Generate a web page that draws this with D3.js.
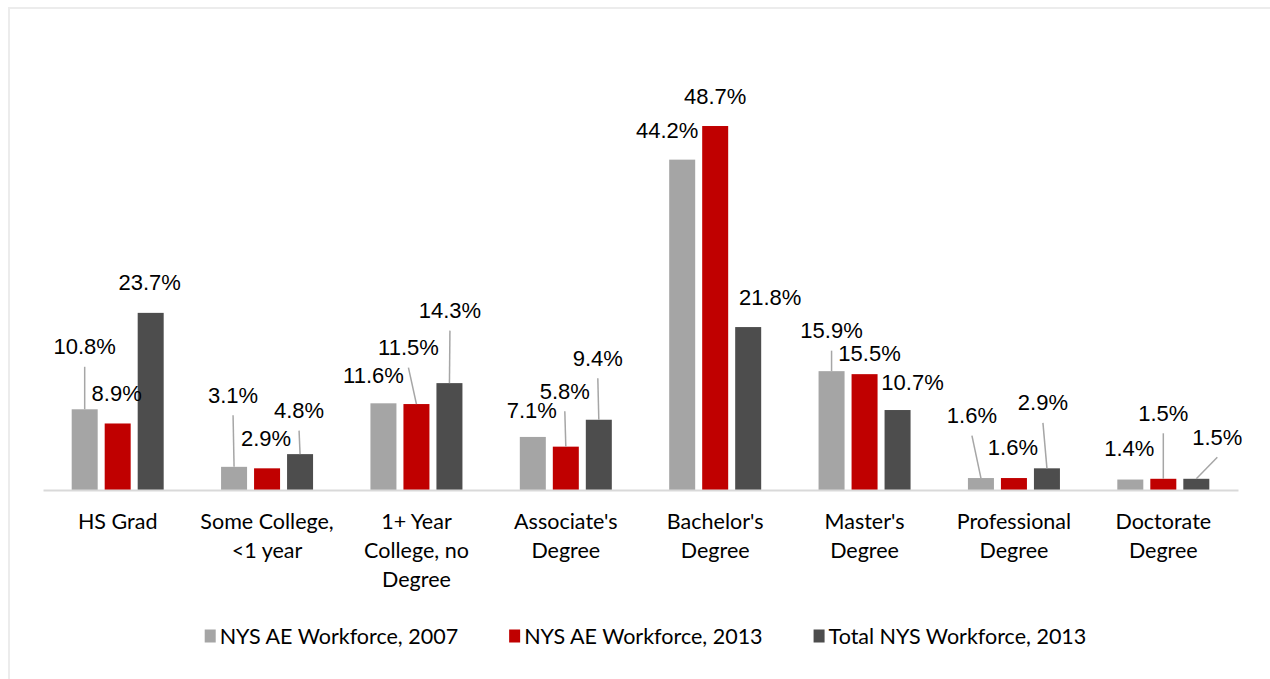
<!DOCTYPE html>
<html>
<head>
<meta charset="utf-8">
<script src="https://cdnjs.cloudflare.com/ajax/libs/d3/7.8.5/d3.min.js"></script>
<style>
  html, body { margin: 0; padding: 0; background: #fff; }
  svg { display: block; }
</style>
</head>
<body>
<svg id="chart" width="1270" height="679"></svg>
<script>
// ---- data ----
const categories = ["HS Grad", "Some College, <1 year", "1+ Year College, no Degree", "Associate's Degree",
  "Bachelor's Degree", "Master's Degree", "Professional Degree", "Doctorate Degree"];
const categoryLines = [["HS Grad"], ["Some College,", "<1 year"], ["1+ Year", "College, no", "Degree"],
  ["Associate's", "Degree"], ["Bachelor's", "Degree"], ["Master's", "Degree"], ["Professional", "Degree"], ["Doctorate", "Degree"]];
const seriesNames = ["NYS AE Workforce, 2007", "NYS AE Workforce, 2013", "Total NYS Workforce, 2013"];
const ae2007 = [10.8, 3.1, 11.6, 7.1, 44.2, 15.9, 1.6, 1.4];
const ae2013 = [8.9, 2.9, 11.5, 5.8, 48.7, 15.5, 1.6, 1.5];
const total2013 = [23.7, 4.8, 14.3, 9.4, 21.8, 10.7, 2.9, 1.5];
const seriesValues = [ae2007, ae2013, total2013];

// ---- layout of data labels (offsets from bar top centre) ----
const labelDx = [
  [0, -1, -10, -1, -15, 0, -9, -1],
  [-1, -1, -8, -1, 0, 5, -1, 0],
  [-1, -1, 0.5, -1, 22, 15, -4, 21]
];
const labelDy = [
  [-63, -72, -28, -27, -30, -41, -63, -31],
  [-30, -30, -57, -56, -30, -21, -31, -66],
  [-31, -44, -73, -62, -30, -28, -66, -42]
];
const leaders = [
  [1, 1, 0, 0, 0, 1, 1, 0],
  [0, 0, 1, 1, 0, 0, 0, 1],
  [0, 1, 1, 1, 0, 0, 1, 1]
];
const colors = ["#a5a5a5", "#c00000", "#4d4d4d"];

const svg = d3.select("#chart");

// frame
svg.append("rect").attr("x", 9).attr("y", 8).attr("width", 1280).attr("height", 700)
  .attr("fill", "#fff").attr("stroke", "#ececec").attr("stroke-width", 2);

const x0 = d3.scaleBand().domain(categories).range([43, 1238]).paddingInner(0).paddingOuter(0);
const x1 = d3.scaleBand().domain(d3.range(3)).range([-46, 46]).paddingInner(7 / 33).paddingOuter(0);
const y = d3.scaleLinear().domain([0, 50]).range([490, 116.3]);

const rows = [];
categories.forEach((c, i) => {
  seriesValues.forEach((vals, s) => {
    rows.push({ c, i, s, v: vals[i] });
  });
});

const cx = d => x0(d.c) + x0.bandwidth() / 2 + x1(d.s) + x1.bandwidth() / 2;

// bars
svg.append("g").selectAll("rect").data(rows).join("rect")
  .attr("x", d => x0(d.c) + x0.bandwidth() / 2 + x1(d.s))
  .attr("y", d => y(d.v))
  .attr("width", x1.bandwidth())
  .attr("height", d => y(0) - y(d.v))
  .attr("fill", d => colors[d.s]);

// axis
const axis = svg.append("g").attr("transform", `translate(0,${y(0)})`)
  .call(d3.axisBottom(x0).tickSize(0).tickFormat(""));
axis.select(".domain").attr("stroke", "#d9d9d9").attr("stroke-width", 2);

// category labels
const catG = svg.append("g");
categories.forEach((c, i) => {
  const t = catG.append("text")
    .attr("text-anchor", "middle")
    .attr("font-family", "Lato, 'Open Sans', sans-serif")
    .attr("font-size", 21.5)
    .attr("fill", "#000");
  categoryLines[i].forEach((ln, k) => {
    t.append("tspan").attr("x", x0(c) + x0.bandwidth() / 2).attr("y", 528.5 + k * 29).text(ln);
  });
});

// leader lines
const fs = 22;
svg.append("g").selectAll("line").data(rows.filter(d => leaders[d.s][d.i]))
  .join("line")
  .attr("x1", d => cx(d) + labelDx[d.s][d.i])
  .attr("y1", d => y(d.v) + labelDy[d.s][d.i] + 20.5)
  .attr("x2", d => cx(d))
  .attr("y2", d => y(d.v))
  .attr("stroke", "#a6a6a6").attr("stroke-width", 1.5);

// data labels
svg.append("g").selectAll("text").data(rows).join("text")
  .attr("x", d => cx(d) + labelDx[d.s][d.i])
  .attr("y", d => y(d.v) + labelDy[d.s][d.i] + 0.36 * fs)
  .attr("text-anchor", "middle")
  .attr("font-family", "'Liberation Sans', Arial, sans-serif")
  .attr("font-size", fs)
  .attr("fill", "#000")
  .text(d => d3.format(".1f")(d.v) + "%");

// legend
const leg = svg.append("g");
const items = leg.selectAll("g").data(seriesNames).join("g");
items.append("rect").attr("width", 11).attr("height", 13).attr("y", -6.5)
  .attr("fill", (d, i) => colors[i]);
items.append("text").attr("x", 15).attr("y", 7.5)
  .attr("font-family", "Lato, 'Open Sans', sans-serif")
  .attr("font-size", 21.5).attr("fill", "#000")
  .text(d => d);
let widths = [];
items.each(function () { widths.push(15 + this.querySelector("text").getComputedTextLength()); });
const gap = 51;
const total = d3.sum(widths) + gap * (widths.length - 1);
let start = 645.5 - total / 2;
items.attr("transform", (d, i) => {
  const xx = start + d3.sum(widths.slice(0, i)) + gap * i;
  return `translate(${xx},636)`;
});
</script>
</body>
</html>
